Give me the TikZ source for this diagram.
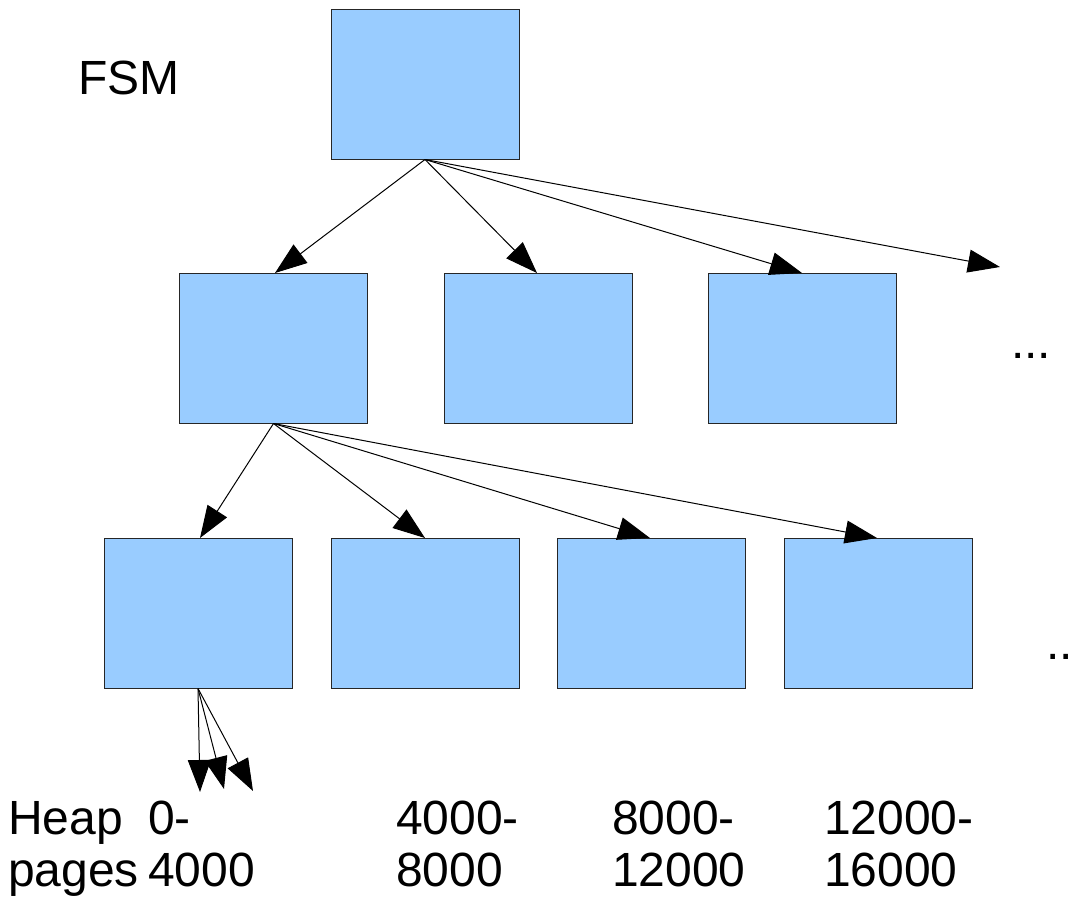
\documentclass[tikz,border=0pt]{standalone}
\usepackage{fontspec}
\setmainfont{Liberation Sans}
\usetikzlibrary{arrows.meta}
\definecolor{boxblue}{HTML}{99CCFF}
\begin{document}
\begin{tikzpicture}[x=1pt,y=-1pt,
  blk/.style={draw=black!85,line width=1pt,fill=boxblue,minimum width=188pt,minimum height=150pt,inner sep=0pt},
  arr/.style={line width=1pt,-{Triangle[length=32pt,width=23pt]}},
  lbl/.style={anchor=base west,inner sep=0pt,font=\fontsize{48}{52}\selectfont,align=left}]
\useasboundingbox (0,0) rectangle (1074,897);
% boxes
\node[blk] (t) at (425,84) {};
\node[blk] (m1) at (273.5,348) {};
\node[blk] (m2) at (538,348) {};
\node[blk] (m3) at (802.5,348) {};
\node[blk] (b1) at (198,613) {};
\node[blk] (b2) at (425,613) {};
\node[blk] (b3) at (651.5,613) {};
\node[blk] (b4) at (878,613) {};
% arrow tips
\coordinate (p1) at (275,273);
\coordinate (p2) at (537,273);
\coordinate (p3) at (802,273);
\coordinate (p4) at (1000,267);
\coordinate (q1) at (200,538);
\coordinate (q2) at (425,538);
\coordinate (q3) at (650,538);
\coordinate (q4) at (877,538);
\coordinate (r1) at (200,792);
\coordinate (r2) at (224,789);
\coordinate (r3) at (253,791);
\foreach \p in {p1,p2,p3,p4} \draw[arr] (t.south) -- (\p);
\foreach \p in {q1,q2,q3,q4} \draw[arr] (m1.south) -- (\p);
\foreach \p in {r1,r2,r3} \draw[arr] (b1.south) -- (\p);
% labels
\node[lbl] (fsm) at (78,94) {FSM};
\node[lbl] (heap) at (8,834) {Heap};
\node[lbl] (pages) at (8,886) {pages};
\node[lbl] (l1a) at (148,834) {0-};
\node[lbl] (l1b) at (148,886) {4000};
\node[lbl] (l2a) at (396,834) {4000-};
\node[lbl] (l2b) at (396,886) {8000};
\node[lbl] (l3a) at (612,834) {8000-};
\node[lbl] (l3b) at (612,886) {12000};
\node[lbl] (l4a) at (824,834) {12000-};
\node[lbl] (l4b) at (824,886) {16000};
\node[lbl] (d1) at (1011,358) {...};
\node[lbl] (d2) at (1046,659) {...};
\end{tikzpicture}
\end{document}
